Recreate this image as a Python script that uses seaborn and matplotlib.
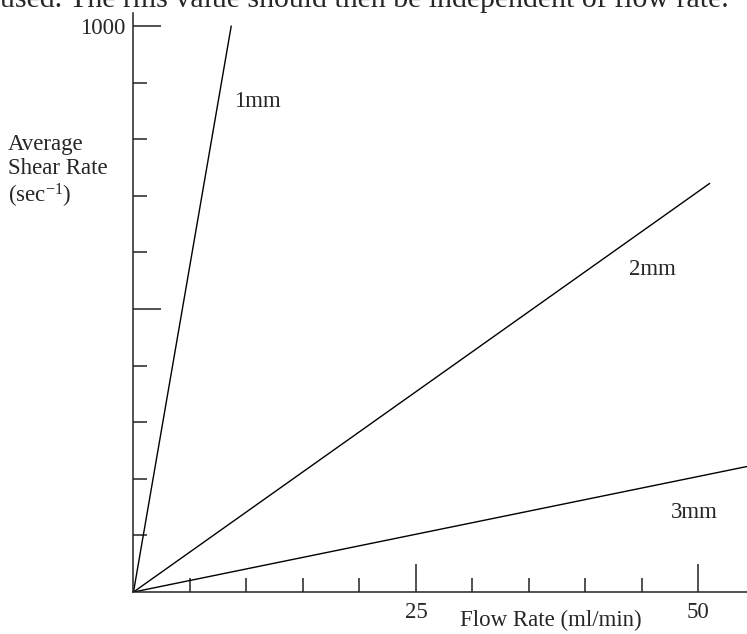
import numpy as np
import pandas as pd
import matplotlib
matplotlib.use("Agg")
import matplotlib.pyplot as plt
from matplotlib.ticker import FixedLocator
import seaborn as sns

# values
diameters = ["1mm", "2mm", "3mm"]
flow_start = [0, 0, 0]
shear_start = [0, 0, 0]
flow_end = [8.65, 51.0, 54.6]
shear_end = [1000, 722, 223]
label_flow = [11.0, 45.9, 49.6]
label_shear = [867, 569, 140]

x_major = [25, 50]
x_minor = [5, 10, 15, 20, 30, 35, 40, 45]
y_major = [500, 1000]
y_major_labels = ["", "1000"]
y_minor = [100, 200, 300, 400, 600, 700, 800, 900]

caption = "used. The rms value should then be independent of flow rate."

sns.set_style("white")
plt.rcParams['font.family'] = ['Liberation Serif', 'DejaVu Serif']
plt.rcParams['mathtext.fontset'] = 'custom'
plt.rcParams['mathtext.rm'] = 'Liberation Serif'
plt.rcParams['mathtext.it'] = 'Liberation Serif:italic'
FS = 16.5

df = pd.DataFrame({
    'flow': flow_start + flow_end,
    'shear': shear_start + shear_end,
    'diameter': diameters + diameters,
})

fig = plt.figure(figsize=(7.47, 6.34), dpi=100)
ax = fig.add_axes([0.1787, 0.0662, 0.8213, 0.9133])

sns.lineplot(data=df, x='flow', y='shear', units='diameter', estimator=None,
             color='black', linewidth=1.0, ax=ax)

for name, fx, fy in zip(diameters, label_flow, label_shear):
    ax.text(fx, fy, name, fontsize=FS, ha='center', va='center')

ax.set_xlim(0, 54.3)
ax.set_ylim(0, 1023)
sns.despine(ax=ax)
for s in ['left', 'bottom']:
    ax.spines[s].set_linewidth(1.1)
    ax.spines[s].set_color('#222222')

ax.xaxis.set_major_locator(FixedLocator(x_major))
ax.xaxis.set_minor_locator(FixedLocator(x_minor))
ax.yaxis.set_major_locator(FixedLocator(y_major))
ax.yaxis.set_minor_locator(FixedLocator(y_minor))
ax.set_xticklabels([str(v) for v in x_major])
ax.set_yticklabels(y_major_labels)
# seaborn's white style switches ticks off, turn them back on
ax.tick_params(which='both', bottom=True, left=True, top=False, right=False)
ax.tick_params(which='major', direction='in', length=20, width=1.1, color='#222222',
               labelsize=FS, pad=7)
ax.tick_params(which='minor', direction='in', length=10, width=1.1, color='#222222')
ax.tick_params(axis='y', which='major', pad=6)
ax.set_xlabel("")
ax.set_ylabel("")

fig.text(460 / 747, 1 - 620 / 634, "Flow Rate (ml/min)", fontsize=FS, ha='left', va='center')
fig.text(8 / 747, 1 - 172 / 634, "Average\nShear Rate\n(sec$^{\\mathrm{-1}}$)",
         fontsize=FS, ha='left', va='center', multialignment='left', linespacing=1.15)
fig.text(0, 1 - 7 / 634, caption, fontsize=21.5, ha='left', va='baseline')

fig.savefig('out.png', dpi=100)
